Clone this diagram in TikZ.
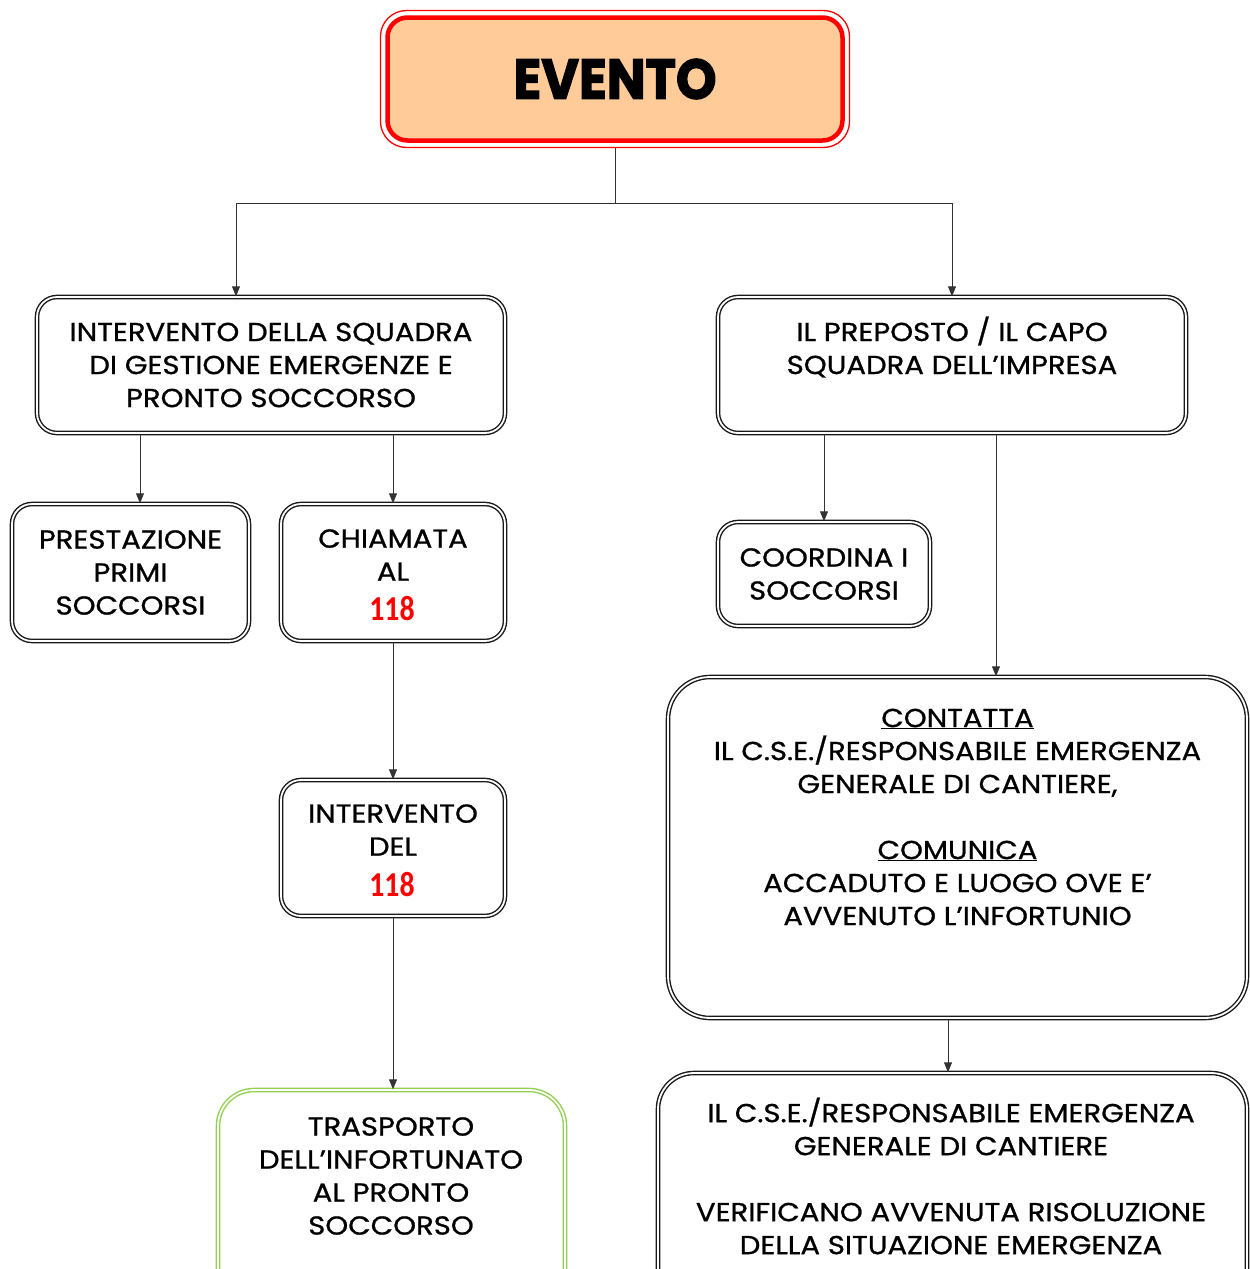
\documentclass[tikz,border=0pt]{standalone}
\usepackage{fontspec}
\setmainfont{Poppins}[FakeStretch=1.12, FakeBold=0.9]
\newfontfamily\evfont{Poppins}[FakeBold=2.5]
\newfontfamily\numfont{Carlito}
\usetikzlibrary{arrows.meta}
\definecolor{peach}{HTML}{FFCC99}
\definecolor{evred}{HTML}{FF0000}
\definecolor{boxgreen}{HTML}{92D050}
\newcommand{\redn}{{\color{red}\numfont\bfseries\fontsize{35}{33}\selectfont\scalebox{0.85}[1]{118}}}
\newcommand{\bodyfont}{\fontsize{26}{33}\selectfont}
\begin{document}
\begin{tikzpicture}[x=1pt,y=-1pt,
  box/.style={draw=black!90, double=white, double distance=1.8pt, line width=1.4pt,
    rounded corners=20pt, align=center, inner sep=0pt, font=\bodyfont},
  gbox/.style={box, draw=boxgreen},
  txt/.style={align=center, inner sep=0pt, font=\bodyfont},
  arr/.style={-{Triangle[length=10pt,width=8pt]}, draw=black!80, line width=1pt},
  ln/.style={draw=black!80, line width=1pt}]
\useasboundingbox (0,0) rectangle (1250,1269);
% EVENTO
\node[draw=evred, line width=1.3pt, rounded corners=26pt, minimum width=469pt, minimum height=137pt] (evo) at (615,79) {};
\node[draw=evred, fill=peach, line width=4.5pt, rounded corners=20pt, minimum width=455pt, minimum height=123pt, inner sep=0pt,
  font=\evfont\fontsize{56}{60}\selectfont\bfseries] (ev) at (615,79) {\scalebox{0.92}[1]{EVENTO}};
% level 1
\node[box, minimum width=468pt, minimum height=136pt] (sq) at (271,365)
  {INTERVENTO DELLA SQUADRA\\DI GESTIONE EMERGENZE E\\PRONTO SOCCORSO};
\node[box, minimum width=468pt, minimum height=136pt] (pr) at (952,365) {};
\node[txt] (prt) at (952,347) {IL PREPOSTO / IL CAPO\\SQUADRA DELL’IMPRESA};
% level 2
\node[box, minimum width=237pt, minimum height=137pt] (ps) at (130.5,572.5)
  {PRESTAZIONE\\PRIMI\\SOCCORSI};
\node[box, minimum width=224pt, minimum height=137pt] (ch) at (393,572.5) {};
\node[txt] (cht) at (393,555) {CHIAMATA\\AL};
\node[inner sep=0pt] (chn) at (392,609) {\redn};
\node[box, minimum width=212pt, minimum height=104pt] (co) at (824,574)
  {COORDINA I\\SOCCORSI};
% level 3
\node[box, minimum width=224pt, minimum height=136pt] (in) at (393,848) {};
\node[txt] (int) at (393,830) {INTERVENTO\\DEL};
\node[inner sep=0pt] (inn) at (392,885) {\redn};
\node[box, rounded corners=42pt, minimum width=579pt, minimum height=341pt] (ct) at (957.5,847.5) {};
\node[txt] (ctt) at (957.5,817) {\underline{CONTATTA}\\IL C.S.E./RESPONSABILE EMERGENZA\\GENERALE DI CANTIERE,\\[33pt]\underline{COMUNICA}\\ACCADUTO E LUOGO OVE E’\\AVVENUTO L’INFORTUNIO};
% level 4
\node[gbox, rounded corners=36pt, minimum width=347pt, minimum height=236pt] (tr) at (391.5,1208) {};
\node[txt] (trt) at (391,1176) {TRASPORTO\\DELL’INFORTUNATO\\AL PRONTO\\SOCCORSO};
\node[box, rounded corners=36pt, minimum width=589pt, minimum height=236pt] (vf) at (952.5,1191) {};
\node[txt] (vft) at (951,1176) {IL C.S.E./RESPONSABILE EMERGENZA\\GENERALE DI CANTIERE\\[33pt]VERIFICANO AVVENUTA RISOLUZIONE\\DELLA SITUAZIONE EMERGENZA};
% connectors
\coordinate (j) at (615,203);
\draw[ln] (evo.south) -- (j);
\draw[arr] (j) -| (sq.north -| 236,0);
\draw[arr] (j) -| (pr.north);
\draw[arr] (sq.south -| 140,0) -- (ps.north -| 140,0);
\draw[arr] (sq.south -| ch.north) -- (ch.north);
\draw[arr] (ch.south) -- (in.north);
\draw[arr] (in.south) -- (tr.north -| in.south);
\draw[arr] (pr.south -| co.north) -- (co.north);
\draw[arr] (pr.south -| 996,0) -- (ct.north -| 996,0);
\draw[arr] (ct.south -| 948,0) -- (vf.north -| 948,0);
\end{tikzpicture}
\end{document}
